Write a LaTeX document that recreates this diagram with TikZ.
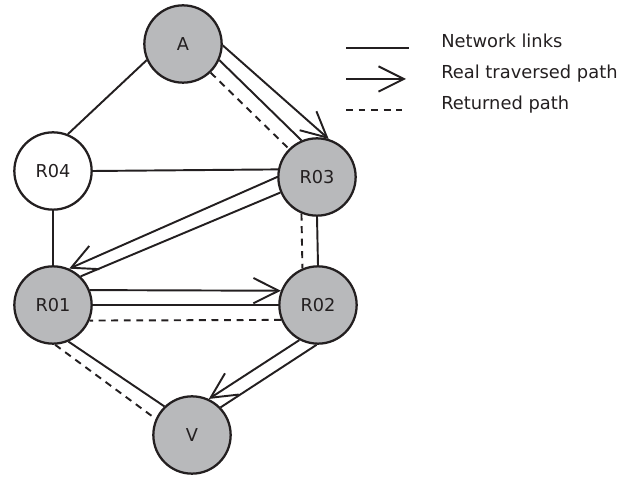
\documentclass[tikz,border=0pt]{standalone}
\usepackage{fontspec}
\setmainfont{DejaVu Sans}
\usetikzlibrary{arrows.meta}

\definecolor{ink}{RGB}{35,31,32}
\definecolor{hopgray}{RGB}{184,185,187}

\begin{document}
\begin{tikzpicture}[x=0.75pt, y=-0.75pt,
    >={Straight Barb[length=19pt, width=19pt]},
    router/.style={circle, draw=ink, line width=1.7pt, minimum size=58pt,
        inner sep=0pt, text=ink, font=\fontsize{13.3}{15}\selectfont},
    visited/.style={router, fill=hopgray},
    link/.style={draw=ink, line width=1.45pt},
    walk/.style={link, ->},
    back/.style={link, dash pattern=on 5.2pt off 4.2pt},
    legendtext/.style={anchor=base west, inner sep=0pt, text=ink,
        font=\fontsize{13.4}{15}\selectfont}]

    % --- 1. 画布大小 ---
    \useasboundingbox (0,0) rectangle (633,477);

    % --- 2. 路由节点 ---
    \node[visited] (A)   at (183,44)  {A};
    \node[router]  (R04) at (53,171)  {R04};
    \node[visited] (R03) at (317,177) {R03};
    \node[visited] (R01) at (53,305)  {R01};
    \node[visited] (R02) at (318,305) {R02};
    \node[visited] (V)   at (192,435) {V};

    % --- 3. 网络链路 (实线) ---
    \draw[link] (A.204) -- (R04.68);
    \draw[link] (R04.0) -- (R03.169);
    \draw[link] (R04) -- (R01);
    \draw[link] (A.-24) -- (R03.113);
    \draw[link] (R03.203) -- (R01.46);
    \draw[link] (R03.270) -- (R02.90);
    \draw[link] (R01.0) -- (R02.180);
    \draw[link] (R02.268) -- (V.44);
    \draw[link] (R01.-67) -- (V.134);

    % --- 4. 实际经过的路径 (箭头) ---
    \draw[walk] (A.-2) -- (R03.73);
    \draw[walk] (R03.180) -- (R01.66);
    \draw[walk] (R01.22) -- (R02.159);
    \draw[walk] (R02.242) -- (V.65);

    % --- 5. 返回路径 (虚线) ---
    \draw[back] (A.-46) -- (R03.135);
    \draw[back] (R03.-113) -- (R02.113);
    \draw[back] (R02.202) -- (R01.-23);
    \draw[back] (R01.-87) -- (V.156);

    % --- 6. 图例 ---
    \coordinate (lk-a) at (346,48);
    \coordinate (lk-b) at (409,48);
    \coordinate (tr-a) at (346,79);
    \coordinate (tr-b) at (406,79);
    \coordinate (rt-a) at (346,110);
    \coordinate (rt-b) at (402,110);
    \draw[link] (lk-a) -- (lk-b);
    \draw[walk] (tr-a) -- (tr-b);
    \draw[back] (rt-a) -- (rt-b);
    \node[legendtext] (lk-txt) at (441,48)  {Network links};
    \node[legendtext] (tr-txt) at (441,79)  {Real traversed path};
    \node[legendtext] (rt-txt) at (441,110) {Returned path};

\end{tikzpicture}
\end{document}
